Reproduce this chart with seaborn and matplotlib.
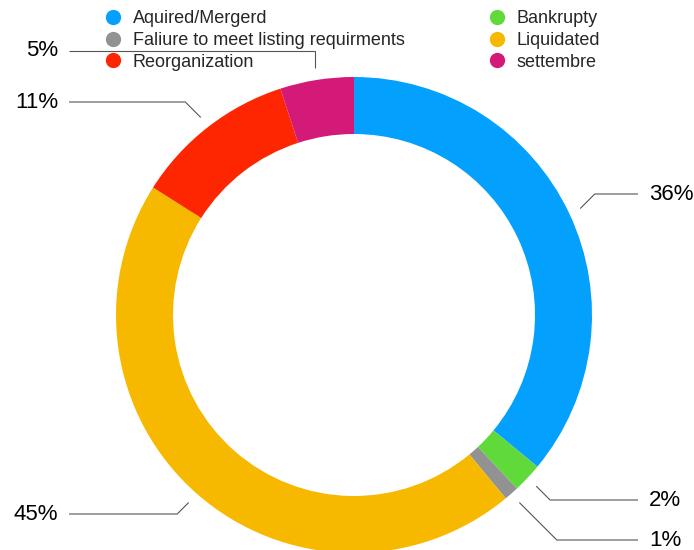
import numpy as np
import matplotlib
matplotlib.use("Agg")
import matplotlib.pyplot as plt
from matplotlib.lines import Line2D
import seaborn as sns

# Delisting outcomes, clockwise from 12 o'clock
categories = ["Aquired/Mergerd", "Bankrupty", "Faliure to meet listing requirments",
              "Liquidated", "Reorganization", "settembre"]
shares = [36, 2, 1, 45, 11, 5]
pct_labels = ["36%", "2%", "1%", "45%", "11%", "5%"]
colors = ["#03A0FE", "#60D93A", "#929292", "#F7B800", "#FE2600", "#D31A78"]

sns.set_theme(style="white")
plt.rcParams["font.family"] = ["Liberation Sans", "DejaVu Sans"]
palette = sns.color_palette(colors)

W, H = 694, 550
fig = plt.figure(figsize=(W / 100, H / 100), dpi=100)
ax = fig.add_axes([0, 0, 1, 1])

cx, cy = 354, H - 315
R, ring = 238, 57

wedges, _ = ax.pie(shares, colors=palette, startangle=90, counterclock=False,
                   radius=R, center=(cx, cy),
                   wedgeprops=dict(width=ring, linewidth=0))

ax.set_xlim(0, W)
ax.set_ylim(0, H)
ax.set_aspect("equal")
ax.set_axis_off()

# Leader lines and percentage labels
label_y = {"36%": 194, "2%": 500, "1%": 540, "45%": 514, "11%": 102, "5%": 51}
right_x, left_x = 638, 69
cum = np.cumsum([0] + shares)
total = cum[-1]
for i, lab in enumerate(pct_labels):
    mid = (cum[i] + cum[i + 1]) / 2 / total
    theta = np.deg2rad(90 - 360 * mid)
    r0 = R + 12
    sx, sy = cx + r0 * np.cos(theta), cy + r0 * np.sin(theta)
    ly = H - label_y[lab]
    right = np.cos(theta) > 0
    if abs(np.cos(theta)) < 0.3:
        ex = sx
    else:
        ex = sx + abs(ly - sy) * (1 if right else -1)
    endx = right_x if right else left_x
    ax.plot([sx, ex, endx], [sy, ly, ly], color="#555555", lw=0.8,
            solid_capstyle="butt", solid_joinstyle="miter")
    if right:
        ax.text(endx + 11, ly, lab, ha="left", va="center", fontsize=16, color="black")
    else:
        ax.text(endx - 11, ly, lab, ha="right", va="center", fontsize=16, color="black")

# Legend laid out row by row: two entries per row
order = [0, 2, 4, 1, 3, 5]
handles = [Line2D([], [], marker="o", linestyle="none", markersize=11,
                  markerfacecolor=colors[k], markeredgewidth=0) for k in order]
labels = [categories[k] for k in order]
fig.legend(handles, labels, ncol=2, loc="upper left",
           bbox_to_anchor=(104 / W, 1 - 10 / H), frameon=False,
           fontsize=13, handlelength=1.0, handletextpad=0.6,
           labelspacing=0.27, columnspacing=4.6,
           borderaxespad=0, borderpad=0)

fig.savefig("out.png", dpi=100, facecolor="white")
